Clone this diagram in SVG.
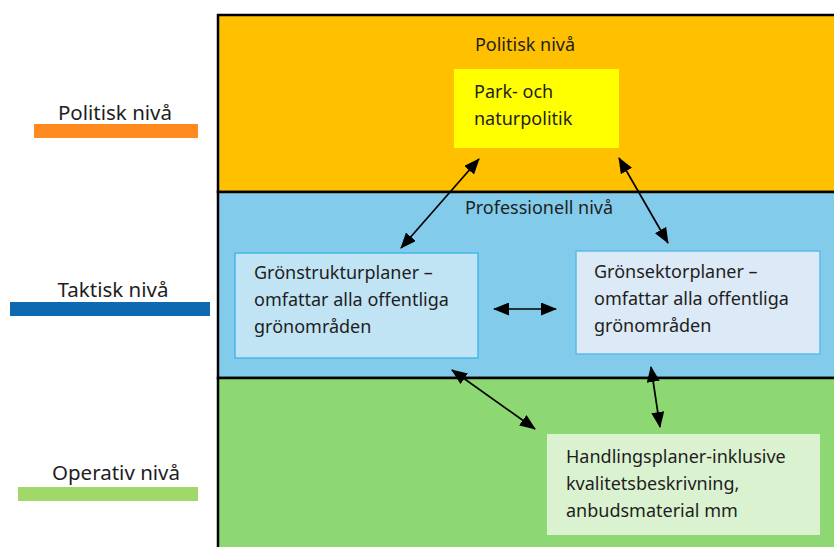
<svg xmlns="http://www.w3.org/2000/svg" width="834" height="547" viewBox="0 0 834 547">
<defs>
<marker id="ah" viewBox="0 0 16 13" refX="15" refY="6.5" markerWidth="16" markerHeight="13" orient="auto-start-reverse" markerUnits="userSpaceOnUse">
<path d="M0,0 L16,6.5 L0,13 z" fill="#000"/>
</marker>
</defs>
<style>
text{font-family:"Noto Sans","Liberation Sans",sans-serif;font-size:18px;fill:#1e1e1e}
.legend text{font-size:20.5px}
.conn line{stroke:#000;stroke-width:1.7;marker-start:url(#ah);marker-end:url(#ah)}
</style>
<rect width="834" height="547" fill="#fff"/>
<g id="band-politisk">
<rect x="218" y="15" width="620" height="177" fill="#ffc000" stroke="#000" stroke-width="2.5"/>
<text x="525" y="51" text-anchor="middle">Politisk nivå</text>
</g>
<g id="band-professionell">
<rect x="218" y="192" width="620" height="186" fill="#83cbeb" stroke="#000" stroke-width="2.5"/>
<text x="539" y="214" text-anchor="middle">Professionell nivå</text>
</g>
<g id="band-operativ">
<rect x="218" y="378" width="620" height="175" fill="#8ed873" stroke="#000" stroke-width="2.5"/>
</g>
<g id="legend-politisk" class="legend">
<text x="115" y="120" text-anchor="middle">Politisk nivå</text>
<rect x="34" y="124" width="164" height="14" fill="#ff8a1f"/>
</g>
<g id="legend-taktisk" class="legend">
<text x="113" y="297" text-anchor="middle">Taktisk nivå</text>
<rect x="10" y="302" width="200" height="14" fill="#0e69b0"/>
</g>
<g id="legend-operativ" class="legend">
<text x="116" y="480" text-anchor="middle">Operativ nivå</text>
<rect x="18" y="487" width="180" height="14" fill="#a0d86a"/>
</g>
<g id="park">
<rect x="454" y="69" width="165" height="79" fill="#ffff00"/>
<text x="474" y="98">Park- och</text>
<text x="474" y="125">naturpolitik</text>
</g>
<g id="gronstruktur">
<rect x="235" y="253" width="243" height="105" fill="#c1e4f5" stroke="#45b8ec" stroke-width="1.5"/>
<text x="254" y="279">Grönstrukturplaner –</text>
<text x="254" y="306">omfattar alla offentliga</text>
<text x="254" y="333">grönområden</text>
</g>
<g id="gronsektor">
<rect x="576" y="251" width="244" height="103" fill="#dce9f6" stroke="#5bbcec" stroke-width="1.5"/>
<text x="594" y="278">Grönsektorplaner –</text>
<text x="594" y="305">omfattar alla offentliga</text>
<text x="594" y="332">grönområden</text>
</g>
<g id="handling">
<rect x="547" y="434" width="273" height="101" fill="#daf2d0"/>
<text x="566" y="463">Handlingsplaner-inklusive</text>
<text x="566" y="490">kvalitetsbeskrivning,</text>
<text x="566" y="517">anbudsmaterial mm</text>
</g>
<g class="conn" id="connectors">
<line x1="479" y1="159" x2="401" y2="248"/>
<line x1="619" y1="158" x2="668" y2="243"/>
<line x1="494" y1="309" x2="556" y2="309"/>
<line x1="452" y1="370" x2="535" y2="429"/>
<line x1="651" y1="367" x2="660" y2="427"/>
</g>
</svg>
